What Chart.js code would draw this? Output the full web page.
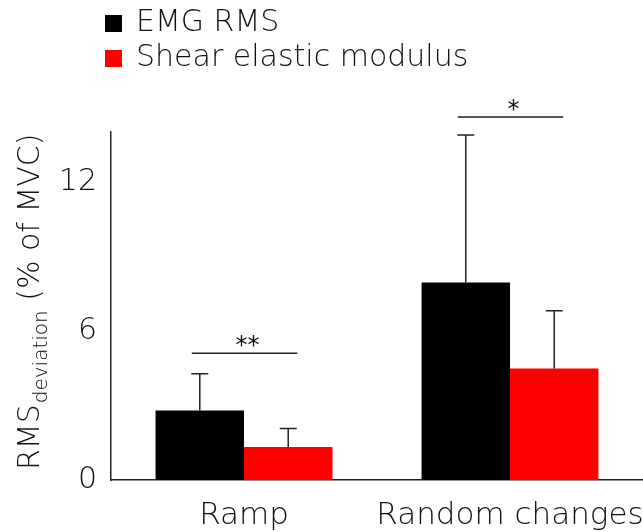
<!DOCTYPE html>
<html>
<head>
<meta charset="utf-8">
<script src="https://cdn.jsdelivr.net/npm/chart.js@4.4.1/dist/chart.umd.min.js"></script>
<style>
  body { margin: 0; background: #fff; }
</style>
</head>
<body>
<canvas id="grafico" width="643" height="532"></canvas>
<script>
const categorias = ["Ramp", "Random changes"]
const emgRms = [2.8, 7.95]
const emgRmsSd = [1.47, 5.93]
const shearModulus = [1.33, 4.49]
const shearModulusSd = [0.74, 2.32]
const yTicks = [0, 6, 12]
const sigAltura = [5.1, 14.6]
const sigTexto = ["**", "*"]

const fuente = "'DejaVu Sans', sans-serif"
const peso = "200"
const colorTexto = "#111"

// barras de error + lineas de significancia
const errores = {
  id: "errores",
  afterDatasetsDraw(chart) {
    const ctx = chart.ctx
    const y = chart.scales.y
    const sds = [emgRmsSd, shearModulusSd]
    ctx.save()
    ctx.strokeStyle = "#222"
    ctx.lineWidth = 1.5
    chart.data.datasets.forEach((ds, i) => {
      const meta = chart.getDatasetMeta(i)
      meta.data.forEach((bar, j) => {
        const top = y.getPixelForValue(ds.data[j] + sds[i][j])
        ctx.beginPath()
        ctx.moveTo(bar.x, bar.y)
        ctx.lineTo(bar.x, top)
        ctx.moveTo(bar.x - 8.5, top)
        ctx.lineTo(bar.x + 8.5, top)
        ctx.stroke()
      })
    })
    const m0 = chart.getDatasetMeta(0).data
    const m1 = chart.getDatasetMeta(1).data
    ctx.fillStyle = colorTexto
    ctx.font = "24px " + fuente
    ctx.textAlign = "center"
    ctx.textBaseline = "alphabetic"
    sigAltura.forEach((v, j) => {
      const py = y.getPixelForValue(v)
      const x1 = m0[j].x - 8
      const x2 = m1[j].x + 9
      ctx.beginPath()
      ctx.moveTo(x1, py)
      ctx.lineTo(x2, py)
      ctx.stroke()
      ctx.fillText(sigTexto[j], (x1 + x2) / 2 + 3, py)
    })
    ctx.restore()
  }
}

// leyenda y titulo del eje y
const textos = {
  id: "textos",
  afterDraw(chart) {
    const ctx = chart.ctx
    ctx.save()
    ctx.textBaseline = "middle"
    ctx.textAlign = "left"
    ctx.font = peso + " 30px " + fuente
    chart.data.datasets.forEach((ds, i) => {
      const yy = 23.5 + i * 35
      ctx.fillStyle = ds.backgroundColor
      ctx.fillRect(105, yy - 8.5, 17, 17)
      ctx.fillStyle = colorTexto
      ctx.fillText(ds.label, 136, yy)
    })

    ctx.translate(39, 470)
    ctx.rotate(-Math.PI / 2)
    ctx.textBaseline = "alphabetic"
    ctx.font = peso + " 30px " + fuente
    ctx.fillText("RMS", 0, 0)
    let x = ctx.measureText("RMS").width
    ctx.font = peso + " 20px " + fuente
    ctx.fillText("deviation", x + 1, 8)
    x += ctx.measureText("deviation").width + 1
    ctx.font = peso + " 30px " + fuente
    ctx.fillText(" (% of MVC)", x, 0)
    ctx.restore()
  }
}

const ctx = document.getElementById("grafico").getContext("2d")

new Chart(ctx, {
  type: "bar",
  data: {
    labels: categorias,
    datasets: [{
      label: "EMG RMS",
      data: emgRms,
      backgroundColor: "#000000",
      borderWidth: 0
    }, {
      label: "Shear elastic modulus",
      data: shearModulus,
      backgroundColor: "#ff0000",
      borderWidth: 0
    }]
  },
  options: {
    responsive: false,
    animation: false,
    categoryPercentage: 0.665,
    barPercentage: 1,
    layout: { padding: { top: 132, left: 0, right: 0, bottom: 0 } },
    plugins: {
      legend: { display: false },
      tooltip: { enabled: false }
    },
    scales: {
      x: {
        grid: { display: false, drawTicks: false },
        border: { color: "#222", width: 1.5 },
        ticks: {
          color: colorTexto,
          font: { family: fuente, size: 31, weight: peso },
          padding: 17,
          maxRotation: 0,
          autoSkip: false
        },
        afterFit(scale) {
          scale.height = 52
          scale.paddingLeft = 0
          scale.paddingRight = 0
        }
      },
      y: {
        min: 0,
        max: 14,
        grid: { display: false, drawTicks: false },
        border: { color: "#222", width: 1.5 },
        afterBuildTicks(scale) {
          scale.ticks = yTicks.map(v => ({ value: v }))
        },
        ticks: {
          color: colorTexto,
          font: { family: fuente, size: 30, weight: peso },
          padding: 14
        },
        afterFit(scale) {
          scale.width = 111
          scale.paddingTop = 0
          scale.paddingBottom = 0
        }
      }
    }
  },
  plugins: [errores, textos]
})
</script>
</body>
</html>
